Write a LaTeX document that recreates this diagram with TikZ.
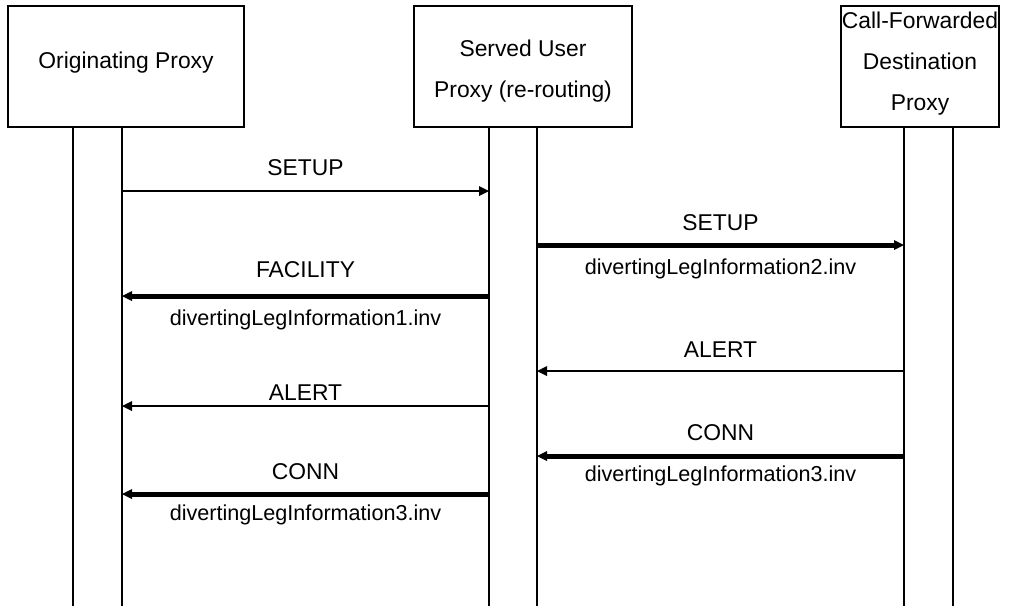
\documentclass[tikz,border=0pt]{standalone}
\usepackage{fontspec}
\setmainfont{Liberation Sans}
\usetikzlibrary{arrows.meta}

\tikzset{
  proxybox/.style={draw, line width=0.04cm, minimum height=2.42cm, inner sep=0pt},
  boxtext/.style={align=center, inner sep=0pt, font=\fontsize{13}{23.3}\selectfont},
  lifeline/.style={line width=0.04cm},
  msg/.style={line width=0.05cm, -{Triangle[length=0.2cm,width=0.2cm,line width=0pt]}},
  bigmsg/.style={line width=0.1cm, -{Triangle[length=0.2cm,width=0.2cm,line width=0pt]}},
  msgname/.style={font=\fontsize{13}{15.6}\selectfont, inner sep=0pt, midway},
  invname/.style={font=\fontsize{12.3}{14.8}\selectfont, inner sep=0pt, midway}
}

\begin{document}
\begin{tikzpicture}[x=0.02cm, y=-0.02cm]
\useasboundingbox (0,0) rectangle (1016,606);

\node[proxybox, minimum width=4.72cm] (orig) at (126,66.5) {};
\node[proxybox, minimum width=4.36cm] (served) at (523,66.5) {};
\node[proxybox, minimum width=3.16cm] (dest) at (920,66.5) {};
\node[boxtext] (origT) at (126,63) {Originating Proxy};
\node[boxtext] (servedT) at (523,71) {Served User\\Proxy (re-routing)};
\node[boxtext] (destT) at (920,64) {Call-Forwarded\\Destination\\Proxy};

% lifelines
\coordinate (o1) at (73,127);
\coordinate (o2) at (122,127);
\coordinate (s1) at (489,127);
\coordinate (s2) at (537,127);
\coordinate (d1) at (904,127);
\coordinate (d2) at (953,127);
\coordinate (bottom) at (0,606);
\foreach \l in {o1,o2,s1,s2,d1,d2}
  \draw[lifeline] (\l) -- (\l |- bottom);

% messages
\coordinate (r1) at (0,191);
\coordinate (r2) at (0,245);
\coordinate (r3) at (0,296);
\coordinate (r4) at (0,371);
\coordinate (r5) at (0,406);
\coordinate (r6) at (0,456);
\coordinate (r7) at (0,494);

\draw[msg] (o2 |- r1) -- (s1 |- r1)
  node[msgname, yshift=0.46cm] (setupA) {SETUP};
\draw[bigmsg] (s2 |- r2) -- (d1 |- r2)
  node[msgname, yshift=0.45cm] (setupB) {SETUP}
  node[invname, yshift=-0.48cm] (infoB) {divertingLegInformation2.inv};
\draw[bigmsg] (s1 |- r3) -- (o2 |- r3)
  node[msgname, yshift=0.52cm] (facA) {FACILITY}
  node[invname, yshift=-0.48cm] (infoA) {divertingLegInformation1.inv};
\draw[msg] (d1 |- r4) -- (s2 |- r4)
  node[msgname, yshift=0.42cm] (alertB) {ALERT};
\draw[msg] (s1 |- r5) -- (o2 |- r5)
  node[msgname, yshift=0.26cm] (alertA) {ALERT};
\draw[bigmsg] (d1 |- r6) -- (s2 |- r6)
  node[msgname, yshift=0.46cm] (connB) {CONN}
  node[invname, yshift=-0.40cm] (infoC) {divertingLegInformation3.inv};
\draw[bigmsg] (s1 |- r7) -- (o2 |- r7)
  node[msgname, yshift=0.44cm] (connA) {CONN}
  node[invname, yshift=-0.42cm] (infoD) {divertingLegInformation3.inv};
\end{tikzpicture}
\end{document}
